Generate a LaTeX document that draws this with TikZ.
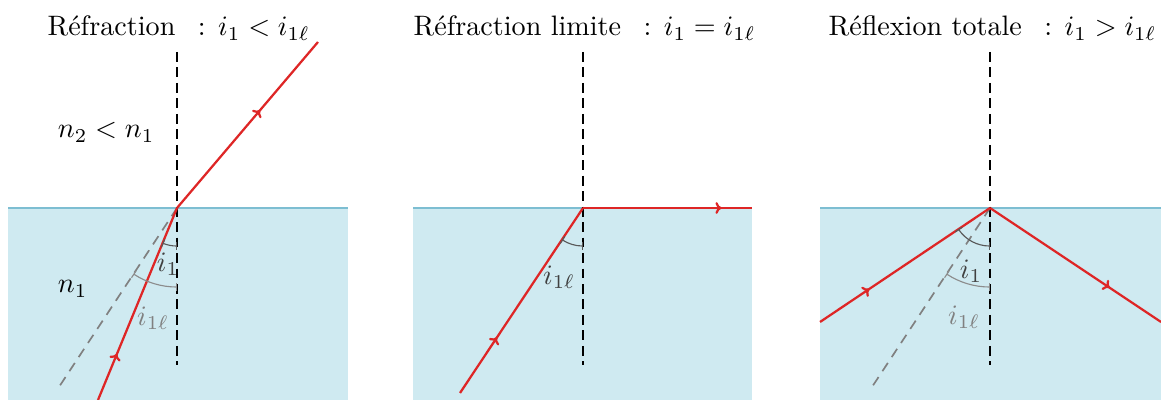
\documentclass[tikz,border=0pt]{standalone}
\usepackage{amsmath}
\usepackage{xcolor}
\usetikzlibrary{positioning,arrows.meta,decorations.markings}

\definecolor{eau}{RGB}{207,234,241}
\definecolor{surface}{RGB}{125,190,210}
\definecolor{rouge}{RGB}{222,38,38}

\begin{document}
\begin{tikzpicture}[x=0.0125cm, y=0.0125cm,
  milieu/.style={fill=eau, draw=none},
  bord/.style={draw=surface, semithick},
  normale/.style={dash pattern=on 3.5pt off 2pt, semithick},
  limite/.style={dash pattern=on 3.5pt off 2.5pt, semithick, gray},
  rayon/.style={draw=rouge, thick, postaction={decorate},
    decoration={markings, mark=at position #1 with {\arrow{To[length=2.2pt,width=4.2pt]}}}},
  rayon/.default=0.5,
  angle/.style={{Bar[width=3pt]}-{Bar[width=3pt]}, black!65},
  anglelim/.style={{Bar[width=3pt]}-{Bar[width=3pt]}, gray!90},
  titre/.style={anchor=base west, inner sep=0pt, font=\normalsize}]
\useasboundingbox (0,0) rectangle (1161,400);

% --- panneau 1 : refraction
\fill[milieu] (8,0) rectangle (348,192);
\draw[bord] (8,192) -- (348,192);
\coordinate (O1) at (177,192);
\coordinate (n1h) at (177,348); \coordinate (n1b) at (177,35);
\coordinate (s1) at (98,0); \coordinate (e1) at (318,358); \coordinate (l1) at (57,10);
\draw[normale] (n1h) -- (n1b);
\draw[limite] (O1) -- (l1);
\draw[rayon=0.24] (s1) -- (O1);
\draw[rayon=0.59] (O1) -- (e1);
\draw[angle] (O1) ++(270:38) arc[start angle=270, end angle=247.6, radius=38];
\draw[anglelim] (O1) ++(270:79) arc[start angle=270, end angle=236.5, radius=79];
\node[titre] (t1) at (47,364) {Réfraction\hspace{0.8em}: $i_1 < i_{1\ell}$};
\node[anchor=base west] (m2) at (48,262) {$n_2 < n_1$};
\node[anchor=base west] (m1) at (48,107) {$n_1$};
\node[black!75] (a1) at (168,136) {$i_1$};
\node[gray] (b1) at (153,82) {$i_{1\ell}$};

% --- panneau 2 : refraction limite
\fill[milieu] (413,0) rectangle (752,192);
\draw[bord] (413,192) -- (752,192);
\coordinate (O2) at (583,192);
\coordinate (n2h) at (583,348); \coordinate (n2b) at (583,35);
\coordinate (s2) at (460,7); \coordinate (e2) at (752,192);
\draw[normale] (n2h) -- (n2b);
\draw[rayon=0.30] (s2) -- (O2);
\draw[rayon=0.82] (O2) -- (e2);
\draw[angle] (O2) ++(270:38) arc[start angle=270, end angle=236.5, radius=38];
\node[titre] (t2) at (413,364) {Réfraction limite\hspace{0.8em}: $i_1 = i_{1\ell}$};
\node[black!75] (b2) at (559,123) {$i_{1\ell}$};

% --- panneau 3 : reflexion totale
\fill[milieu] (820,0) rectangle (1161,192);
\draw[bord] (820,192) -- (1161,192);
\coordinate (O3) at (990,192);
\coordinate (n3h) at (990,348); \coordinate (n3b) at (990,35);
\coordinate (s3) at (820,78); \coordinate (e3) at (1161,78); \coordinate (l3) at (870,10);
\draw[normale] (n3h) -- (n3b);
\draw[limite] (O3) -- (l3);
\draw[rayon=0.29] (s3) -- (O3);
\draw[rayon=0.70] (O3) -- (e3);
\draw[angle] (O3) ++(270:38) arc[start angle=270, end angle=213.8, radius=38];
\draw[anglelim] (O3) ++(270:79) arc[start angle=270, end angle=236.5, radius=79];
\node[titre] (t3) at (828,364) {Réflexion totale\hspace{0.8em}: $i_1 > i_{1\ell}$};
\node[black!75] (a3) at (971,129) {$i_1$};
\node[gray] (b3) at (964,83) {$i_{1\ell}$};
\end{tikzpicture}
\end{document}
